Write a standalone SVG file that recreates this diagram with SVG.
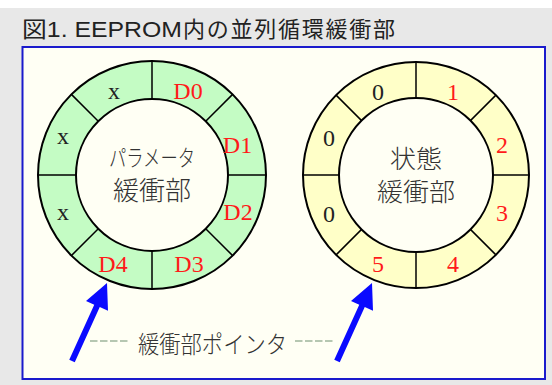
<svg xmlns="http://www.w3.org/2000/svg" xmlns:xlink="http://www.w3.org/1999/xlink" width="552" height="385" viewBox="0 0 552 385">
  <style>
    .ring { stroke: #000; stroke-width: 2; }
    .div { stroke: #000; stroke-width: 1.5; }
    .lbl { font-family: "Liberation Serif", "Times New Roman", serif; font-size: 24px; text-anchor: middle; }
    .red { fill: #ff1a1a; }
    .blk { fill: #222; }
    .jp { font-family: "Noto Sans CJK JP", "Noto Sans", sans-serif; font-weight: 300; fill: #333; text-anchor: middle; }
    .title { font-family: "Liberation Sans", "Noto Sans CJK JP", sans-serif; fill: #222; }
    .arrow { fill: #0a0aff; }
  </style>
  <defs>
    <path id="arrowShape" class="arrow" d="M107,283 L108,310.7 L99.75,307.1 L74.75,362.2 L69.25,359.8 L94.25,304.7 L86,301.1 Z"/>
  </defs>
  <rect x="0" y="0" width="552" height="385" fill="#e8e8e8"/>
  <rect x="0" y="0" width="552" height="8" fill="#ffffff"/>
  <text class="title" x="22" y="37" font-size="22" textLength="160" lengthAdjust="spacingAndGlyphs">図1. EEPROM</text>
  <text class="title" x="183" y="37" font-size="22" textLength="212" lengthAdjust="spacing">内の並列循環緩衝部</text>
  <rect x="22.5" y="47" width="522.5" height="332" fill="#fffff4" stroke="#1a1acc" stroke-width="2"/>

  <g id="param-buffer">
    <circle class="ring" cx="152" cy="175" r="114" fill="#c4fcc4"/>
    <g class="div">
      <line x1="152" y1="99" x2="152" y2="61"/>
      <line x1="152" y1="251" x2="152" y2="289"/>
      <line x1="76" y1="175" x2="38" y2="175"/>
      <line x1="228" y1="175" x2="266" y2="175"/>
      <line x1="205.7" y1="121.3" x2="232.6" y2="94.4"/>
      <line x1="98.3" y1="121.3" x2="71.4" y2="94.4"/>
      <line x1="205.7" y1="228.7" x2="232.6" y2="255.6"/>
      <line x1="98.3" y1="228.7" x2="71.4" y2="255.6"/>
    </g>
    <circle class="ring" cx="152" cy="175" r="76" fill="#fffff4"/>
    <text class="lbl blk" x="114" y="99">x</text>
    <text class="lbl red" x="188" y="99">D0</text>
    <text class="lbl red" x="237.5" y="153">D1</text>
    <text class="lbl red" x="238" y="220">D2</text>
    <text class="lbl red" x="189" y="272">D3</text>
    <text class="lbl red" x="113" y="272">D4</text>
    <text class="lbl blk" x="63" y="144">x</text>
    <text class="lbl blk" x="63" y="220">x</text>
    <text class="jp" x="152" y="166" font-size="23" textLength="86" lengthAdjust="spacingAndGlyphs">パラメータ</text>
    <text class="jp" x="152" y="200" font-size="26" textLength="78" lengthAdjust="spacingAndGlyphs">緩衝部</text>
  </g>

  <g id="state-buffer">
    <circle class="ring" cx="416" cy="175" r="113" fill="#ffffc8"/>
    <g class="div">
      <line x1="416" y1="98" x2="416" y2="62"/>
      <line x1="416" y1="252" x2="416" y2="288"/>
      <line x1="339" y1="175" x2="303" y2="175"/>
      <line x1="493" y1="175" x2="529" y2="175"/>
      <line x1="470.4" y1="120.6" x2="495.9" y2="95.1"/>
      <line x1="361.6" y1="120.6" x2="336.1" y2="95.1"/>
      <line x1="470.4" y1="229.4" x2="495.9" y2="254.9"/>
      <line x1="361.6" y1="229.4" x2="336.1" y2="254.9"/>
    </g>
    <circle class="ring" cx="416" cy="175" r="77" fill="#fffff4"/>
    <text class="lbl blk" x="378" y="100">0</text>
    <text class="lbl red" x="453" y="100">1</text>
    <text class="lbl red" x="502" y="153">2</text>
    <text class="lbl red" x="502" y="221">3</text>
    <text class="lbl red" x="453" y="272">4</text>
    <text class="lbl red" x="378" y="272">5</text>
    <text class="lbl blk" x="329" y="146">0</text>
    <text class="lbl blk" x="329" y="222">0</text>
    <text class="jp" x="416" y="168" font-size="25" textLength="52" lengthAdjust="spacingAndGlyphs">状態</text>
    <text class="jp" x="416" y="201" font-size="25" textLength="78" lengthAdjust="spacingAndGlyphs">緩衝部</text>
  </g>

  <g id="pointer-label">
    <line x1="90" y1="341" x2="128" y2="341" stroke="#6f8f6f" stroke-width="1.2" stroke-dasharray="7.5,2.5"/>
    <line x1="295" y1="341" x2="333" y2="341" stroke="#6f8f6f" stroke-width="1.2" stroke-dasharray="7.5,2.5"/>
    <text class="jp" x="212.5" y="353" font-size="24" textLength="149" lengthAdjust="spacingAndGlyphs">緩衝部ポインタ</text>
  </g>

  <g id="connectors">
    <use xlink:href="#arrowShape"/>
    <use xlink:href="#arrowShape" transform="translate(265,0)"/>
  </g>
</svg>
